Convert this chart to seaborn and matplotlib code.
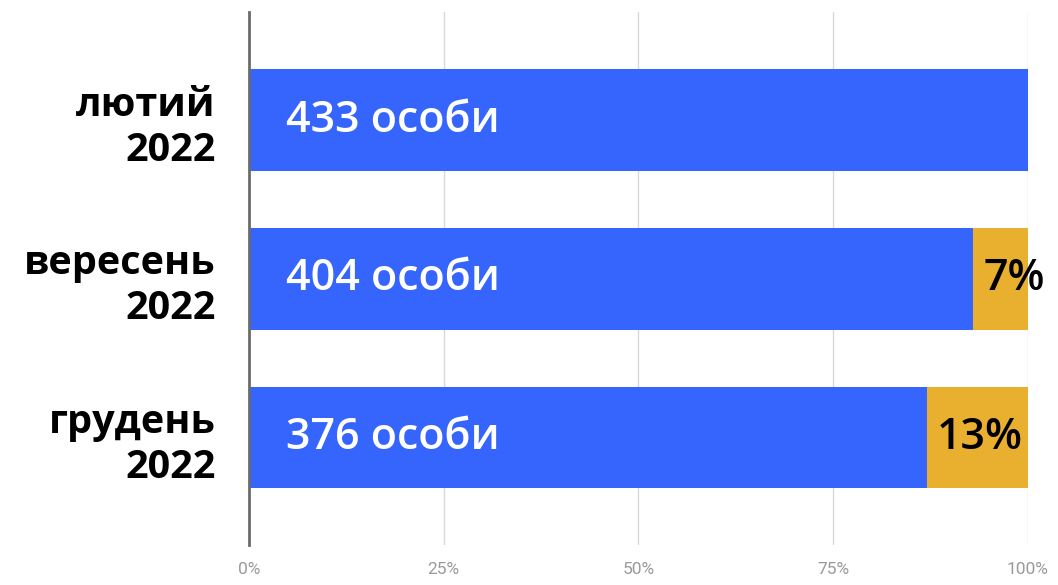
import numpy as np
import pandas as pd
import matplotlib
matplotlib.use("Agg")
import matplotlib.pyplot as plt
import seaborn as sns

# data
months = ["лютий\n2022", "вересень\n2022", "грудень\n2022"]
counts = [433, 404, 376]
blue_share = [100, 93, 87]
gold_share = [0, 7, 13]
bar_labels = ["433 особи", "404 особи", "376 особи"]
pct_labels = ["", "7%", "13%"]
x_ticks = [0, 25, 50, 75, 100]
x_ticklabels = ["0%", "25%", "50%", "75%", "100%"]

BLUE = "#3565fd"
GOLD = "#e8b02e"

sns.set_style("white")
plt.rcParams["font.family"] = ["Open Sans", "DejaVu Sans"]

df = pd.DataFrame({"month": months,
                   "blue": blue_share,
                   "total": np.array(blue_share) + np.array(gold_share)})

fig = plt.figure(figsize=(10.58, 5.85), dpi=100)
ax = fig.add_axes([0.2353, 0.068, 0.7363, 0.911])

# stacked: full bar in gold, blue part on top
sns.barplot(data=df, x="total", y="month", color=GOLD, width=0.64,
            saturation=1, linewidth=0, ax=ax, zorder=2)
sns.barplot(data=df, x="blue", y="month", color=BLUE, width=0.64,
            saturation=1, linewidth=0, ax=ax, zorder=3)

ax.set_xlim(0, 100)
ax.set_ylim(2.68, -0.68)
ax.set_xlabel("")
ax.set_ylabel("")

ax.set_xticks(x_ticks)
ax.set_xticklabels(x_ticklabels, color="#9a9a9a", fontsize=12.5,
                   family=["Roboto", "DejaVu Sans"])
ax.tick_params(axis="x", length=0, pad=12)
ax.tick_params(axis="y", length=0, pad=24)
for lab in ax.get_yticklabels():
    lab.set_fontsize(28.5)
    lab.set_fontweight("bold")
    lab.set_color("black")
    lab.set_multialignment("right")

ax.grid(axis="x", color="#d9d9d9", linewidth=1, zorder=0)
ax.set_axisbelow(True)
for s in ["top", "right", "bottom"]:
    ax.spines[s].set_visible(False)
ax.spines["left"].set_color("#6b6b6b")
ax.spines["left"].set_linewidth(2)
ax.spines["left"].set_zorder(4)

for i in range(len(months)):
    ax.text(4.8, i, bar_labels[i], color="white", fontsize=31,
            fontweight="semibold", va="center", ha="left", zorder=5)
    if pct_labels[i]:
        ax.text(blue_share[i] + 1.3, i, pct_labels[i], color="black",
                fontsize=31, fontweight="semibold", va="center", ha="left",
                zorder=5)

fig.savefig("out.png", dpi=100)
